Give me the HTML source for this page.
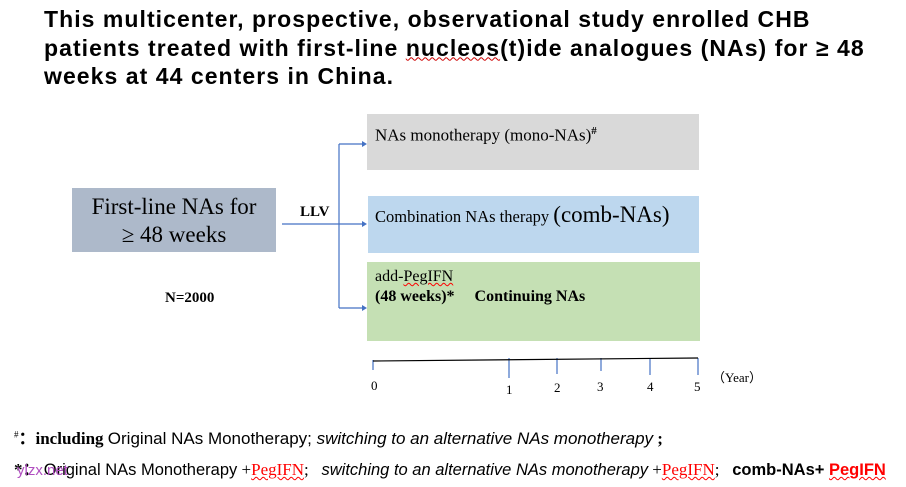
<!DOCTYPE html>
<html><head><style>
body{margin:0;width:906px;height:487px;background:#fff;position:relative;overflow:hidden;font-family:"Liberation Serif",serif}
.a{position:absolute}
.t{font-family:"Liberation Sans",sans-serif;font-weight:bold;font-size:23px;letter-spacing:1.05px;line-height:28.5px;left:44px;top:5px;color:#000;white-space:nowrap}
.sq{text-decoration:underline wavy red;text-decoration-thickness:1px}
.s{font-family:"Liberation Sans",sans-serif}
</style></head><body>
<div class="a t">This multicenter, prospective, observational study enrolled CHB<br>patients treated with first-line <span style="text-decoration:underline wavy #c00;text-decoration-thickness:1px">nucleos</span>(t)ide analogues (NAs) for ≥ 48<br>weeks at 44 centers in China.</div>

<div class="a" style="left:72px;top:188px;width:204px;height:64px;background:#adb9ca;text-align:center;font-size:23px;line-height:28px;padding-top:5px;box-sizing:border-box">First-line NAs for<br>≥ 48 weeks</div>
<div class="a" style="left:300px;top:204px;font-weight:bold;font-size:15px">LLV</div>
<div class="a" style="left:165px;top:290px;font-weight:bold;font-size:15px">N=2000</div>

<div class="a" style="left:367px;top:114px;width:332px;height:56px;background:#d9d9d9"></div>
<div class="a" style="left:375px;top:125px;font-size:17px">NAs monotherapy (mono-NAs)<sup style="font-size:11px;font-weight:bold">#</sup></div>
<div class="a" style="left:368px;top:196px;width:331px;height:57px;background:#bdd7ee"></div>
<div class="a" style="left:375px;top:202px;font-size:16.5px">Combination NAs therapy <span style="font-size:23px">(comb-NAs)</span></div>
<div class="a" style="left:367px;top:262px;width:333px;height:79px;background:#c5e0b4"></div>
<div class="a" style="left:375px;top:267px;font-size:16px;line-height:20px">add-<span class="sq">PegIFN</span><br><b>(48 weeks)*&nbsp;&nbsp;&nbsp;&nbsp;&nbsp;Continuing NAs</b></div>

<svg class="a" style="left:0;top:0" width="906" height="487">
<g stroke="#4472c4" stroke-width="1.2" fill="#4472c4">
<line x1="282" y1="224" x2="364" y2="224"/>
<line x1="339" y1="144" x2="339" y2="308"/>
<line x1="339" y1="144" x2="364" y2="144"/>
<line x1="339" y1="308" x2="364" y2="308"/>
<path d="M367 144l-5-3v6z M367 224l-5-3v6z M367 308l-5-3v6z" stroke="none"/>
<line x1="373" y1="360" x2="373" y2="370"/>
<line x1="509" y1="358" x2="509" y2="378"/>
<line x1="557" y1="358" x2="557" y2="374"/>
<line x1="601" y1="358" x2="601" y2="371"/>
<line x1="650" y1="358" x2="650" y2="375"/>
<line x1="698" y1="358" x2="698" y2="375"/>
</g>
<line x1="373" y1="361" x2="698" y2="358" stroke="#000" stroke-width="1.2"/>
</svg>
<div class="a" style="font-size:13px;left:371px;top:378px">0</div>
<div class="a" style="font-size:13px;left:506px;top:382px">1</div>
<div class="a" style="font-size:13px;left:554px;top:380px">2</div>
<div class="a" style="font-size:13px;left:597px;top:379px">3</div>
<div class="a" style="font-size:13px;left:647px;top:379px">4</div>
<div class="a" style="font-size:13px;left:694px;top:379px">5</div>
<div class="a" style="font-size:13px;left:712px;top:367px">（Year）</div>

<div class="a" style="left:14px;top:424px;font-size:17px;white-space:nowrap"><sup style="font-size:9px">#</sup><b>：including</b> <span class="s" style="font-size:17px">Original NAs Monotherapy; <i>switching to an alternative NAs monotherapy</i></span> <b>;</b></div>
<div class="a" style="left:14px;top:455px;font-size:17px;white-space:nowrap"><b>*：</b> <span class="s" style="font-size:16.5px">Original NAs Monotherapy</span> +<span class="sq" style="color:red">PegIFN</span>;&nbsp;&nbsp; <span class="s" style="font-size:16.5px"><i>switching to an alternative NAs monotherapy</i></span> +<span class="sq" style="color:red">PegIFN</span>;&nbsp;&nbsp; <span class="s" style="font-size:16.5px;font-weight:bold">comb-NAs+ <span class="sq" style="color:red">PegIFN</span></span></div>
<div class="a s" style="left:17px;top:462px;font-size:15px;color:#b04ec0">ylzx.net</div>
</body></html>
